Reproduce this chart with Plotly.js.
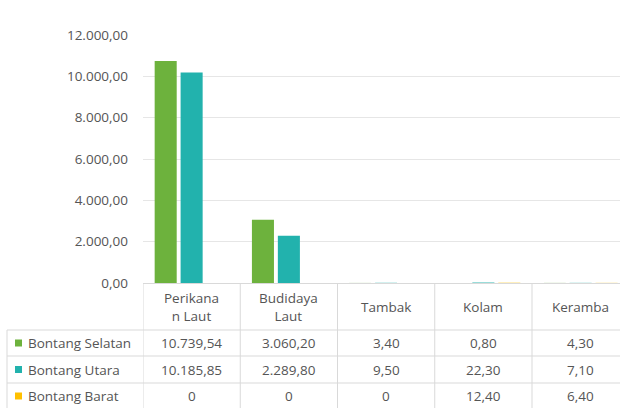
<!DOCTYPE html>
<html>
<head>
<meta charset="utf-8">
<script src="https://cdn.plot.ly/plotly-3.0.1.min.js"></script>
<style>html,body{margin:0;padding:0;background:#fff;}#chart{width:620px;height:408px;}</style>
</head>
<body>
<div id="chart"></div>
<script>
const categories = ['Perikanan Laut', 'Budidaya Laut', 'Tambak', 'Kolam', 'Keramba'];
const headerLabels = ['Perikana<br>n Laut', 'Budidaya<br>Laut', 'Tambak', 'Kolam', 'Keramba'];
const seriesNames = ['Bontang Selatan', 'Bontang Utara', 'Bontang Barat'];
const bontangSelatan = [10739.54, 3060.20, 3.40, 0.80, 4.30];
const bontangUtara = [10185.85, 2289.80, 9.50, 22.30, 7.10];
const bontangBarat = [0, 0, 0, 12.40, 6.40];
const yTicks = [0, 2000, 4000, 6000, 8000, 10000, 12000];

const series = [bontangSelatan, bontangUtara, bontangBarat];
const colors = ['#6db23d', '#22b2ad', '#ffc000'];
const FONT = 'Open Sans, sans-serif';
const FS = 13.5;
const TXT = '#555555';
const LINE = '#d9d9d9';

// layout geometry (pixels)
const W = 620, H = 408, L = 143, T = 35, B = 125;
const COLW = 97.25;
const plotW = W - L, plotH = H - T - B;
const px2y = p => (H - B - p) / plotH;      // pixel row -> paper y
const px2x = p => (p - L) / plotW;          // pixel col -> paper x

function fmt(v) {
  if (v === 0) return '0';
  const parts = v.toFixed(2).split('.');
  const intPart = parts[0].replace(/\B(?=(\d{3})+(?!\d))/g, '.');
  return intPart + ',' + parts[1];
}

const traces = series.map((vals, i) => ({
  type: 'bar',
  name: seriesNames[i],
  x: categories,
  y: vals,
  marker: {color: colors[i], line: {width: 0}},
  hoverinfo: 'x+y+name'
}));

const shapes = [];
const annotations = [];
// vertical table lines
for (let k = 0; k < 5; k++) {
  shapes.push({type: 'line', xref: 'x', yref: 'paper', x0: k - 0.5, x1: k - 0.5,
    y0: px2y(283), y1: px2y(408), line: {color: LINE, width: 1}});
}
// horizontal row lines
const rowLines = [330, 356, 383];
rowLines.forEach(p => shapes.push({type: 'line', xref: 'paper', yref: 'paper',
  x0: px2x(7), x1: 1, y0: px2y(p), y1: px2y(p), line: {color: LINE, width: 1}}));
shapes.push({type: 'line', xref: 'paper', yref: 'paper', x0: px2x(7), x1: px2x(7),
  y0: px2y(330), y1: px2y(408), line: {color: LINE, width: 1}});

// header
headerLabels.forEach((h, k) => annotations.push({xref: 'x', yref: 'paper', x: k, y: px2y(306.5),
  text: h, showarrow: false, xanchor: 'center', yanchor: 'middle',
  font: {family: FONT, size: FS, color: TXT}}));

// rows
const rowY = [343, 369.5, 396];
series.forEach((vals, i) => {
  shapes.push({type: 'rect', xref: 'paper', yref: 'paper', x0: px2x(15), x1: px2x(22),
    y0: px2y(rowY[i] - 3.5), y1: px2y(rowY[i] + 3.5), fillcolor: colors[i], line: {width: 0}});
  annotations.push({xref: 'paper', yref: 'paper', x: px2x(26), y: px2y(rowY[i]), text: seriesNames[i],
    showarrow: false, xanchor: 'left', yanchor: 'middle', font: {family: FONT, size: FS, color: TXT}});
  vals.forEach((v, k) => annotations.push({xref: 'x', yref: 'paper', x: k, y: px2y(rowY[i]),
    text: fmt(v), showarrow: false, xanchor: 'center', yanchor: 'middle',
    font: {family: FONT, size: FS, color: TXT}}));
});

const layout = {
  width: W, height: H,
  margin: {l: L, r: 0, t: T, b: B, pad: 0},
  paper_bgcolor: '#ffffff', plot_bgcolor: '#ffffff',
  separators: ',.',
  showlegend: false,
  barmode: 'group', bargap: 0.2, bargroupgap: 0.15,
  font: {family: FONT, size: FS, color: TXT},
  xaxis: {range: [-0.5, -0.5 + plotW / COLW], showticklabels: false, ticks: '',
    showgrid: false, zeroline: false, showline: true, linecolor: LINE, linewidth: 1, fixedrange: true},
  yaxis: {range: [0, 12000], tickvals: yTicks, tickformat: ',.2f', ticks: '',
    showgrid: true, gridcolor: '#e6e6e6', gridwidth: 1, zeroline: false, showline: false,
    ticklabelstandoff: 14, tickfont: {family: FONT, size: FS, color: TXT}, fixedrange: true},
  shapes: shapes,
  annotations: annotations
};

Plotly.newPlot('chart', traces, layout, {displayModeBar: false, staticPlot: true});
</script>
</body>
</html>
